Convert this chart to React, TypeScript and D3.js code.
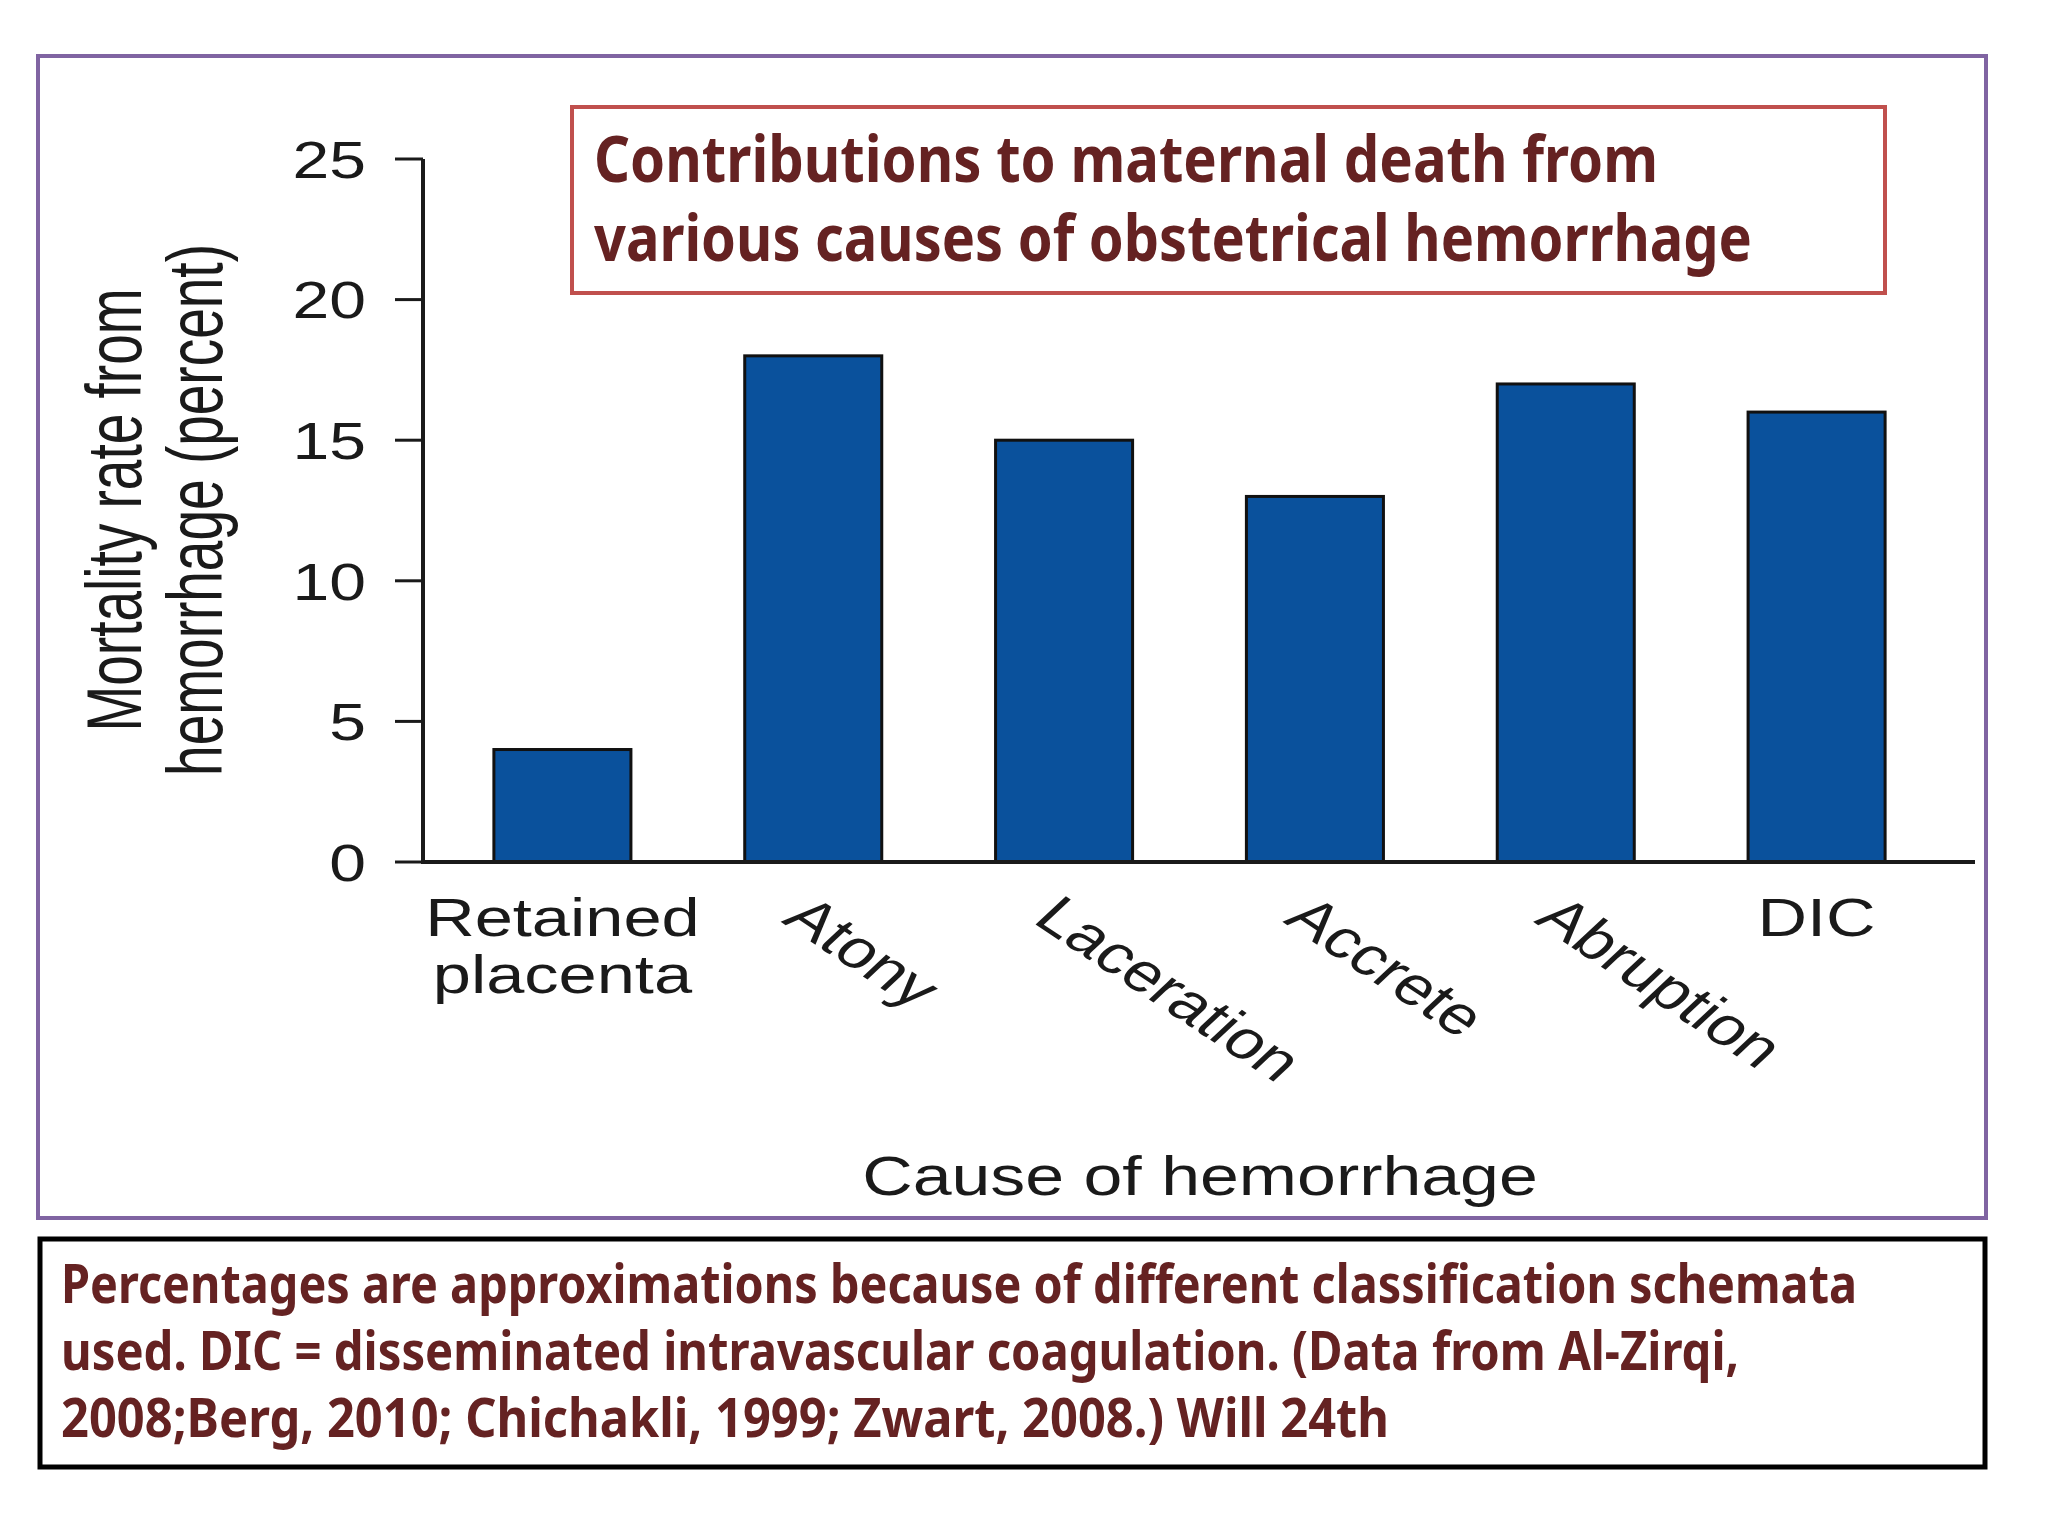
import React from "react";
import * as d3 from "d3";

const categories = ["Retained placenta", "Atony", "Laceration", "Accrete", "Abruption", "DIC"];
const values = [4, 18, 15, 13, 17, 16];
const rotatedLabel = [false, true, true, true, true, false];
const yTicks = [0, 5, 10, 15, 20, 25];
const titleLines = ["Contributions to maternal death from", "various causes of obstetrical hemorrhage"];
const yTitleLines = ["Mortality rate from", "hemorrhage (percent)"];
const xTitle = "Cause of hemorrhage";
const noteLines = [
  "Percentages are approximations because of different classification schemata",
  "used. DIC = disseminated intravascular coagulation. (Data from Al-Zirqi,",
  "2008;Berg, 2010; Chichakli, 1999; Zwart, 2008.) Will 24th",
];

const W = 2048;
const H = 1536;
const SX = 1.27; // horizontal stretch of the original chart artwork
const AXIS_X = 423;
const Y0 = 862;
const Y25 = 159;
const CHART_FONT = "'Liberation Sans', Arial, Helvetica, sans-serif";
const NOTE_FONT = "'Noto Sans', 'Open Sans', sans-serif";
const TEXT_RED = "#652222";

export default function App() {
  const y = d3.scaleLinear().domain([0, 25]).range([Y0, Y25]);
  const x = d3
    .scaleBand<string>()
    .domain(categories)
    .range([437, 1942])
    .paddingInner(0.4537)
    .paddingOuter(0.2268);
  const bw = x.bandwidth();

  const titleWidths = [1064, 1158];
  const noteWidths = [1796, 1678, 1328];

  return (
    <svg
      width={W}
      height={H}
      viewBox={`0 0 ${W} ${H}`}
      style={{ position: "absolute", left: 0, top: 0, background: "#fff" }}
    >
      <rect x={0} y={0} width={W} height={H} fill="#fff" />
      {/* purple frame */}
      <rect x={38} y={56} width={1948} height={1162} fill="none" stroke="#8064A2" strokeWidth={4} />

      {/* bars */}
      {categories.map((c, i) => (
        <rect
          key={c}
          x={x(c)}
          y={y(values[i])}
          width={bw}
          height={Y0 - y(values[i])}
          fill="#0A519C"
          stroke="#111"
          strokeWidth={3}
        />
      ))}

      {/* axes */}
      <line x1={AXIS_X} x2={AXIS_X} y1={Y25} y2={Y0 + 2} stroke="#1a1a1a" strokeWidth={4} />
      <line x1={AXIS_X - 2} x2={1975} y1={Y0} y2={Y0} stroke="#1a1a1a" strokeWidth={4} />
      {yTicks.map((t) => (
        <g key={t}>
          <line x1={AXIS_X - 28} x2={AXIS_X} y1={y(t)} y2={y(t)} stroke="#1a1a1a" strokeWidth={3} />
          <g transform={`translate(366,${y(t)}) scale(${SX},1)`}>
            <text
              textAnchor="end"
              dy="0.36em"
              fontFamily={CHART_FONT}
              fontSize={52}
              fill="#1a1a1a"
            >
              {t}
            </text>
          </g>
        </g>
      ))}

      {/* x labels */}
      {categories.map((c, i) => {
        const cx = (x(c) as number) + bw / 2;
        if (rotatedLabel[i]) {
          return (
            <g key={c} transform={`translate(${cx - 1},892) scale(${SX},1) rotate(40)`}>
              <text dy="0.72em" fontFamily={CHART_FONT} fontSize={54} fill="#1a1a1a">
                {c}
              </text>
            </g>
          );
        }
        const words = c === "Retained placenta" ? ["Retained", "placenta"] : [c];
        return (
          <g key={c} transform={`translate(${cx},936) scale(${SX},1)`}>
            {words.map((w, k) => (
              <text
                key={w}
                y={k * 57}
                textAnchor="middle"
                fontFamily={CHART_FONT}
                fontSize={54}
                fill="#1a1a1a"
              >
                {w}
              </text>
            ))}
          </g>
        );
      })}

      {/* y title */}
      {yTitleLines.map((l, k) => (
        <g key={l} transform={`translate(${141 + k * 81},510) scale(1.4,1) rotate(-90)`}>
          <text textAnchor="middle" fontFamily={CHART_FONT} fontSize={55} fill="#1a1a1a">
            {l}
          </text>
        </g>
      ))}

      {/* x title */}
      <g transform={`translate(1200,1195) scale(${SX},1)`}>
        <text textAnchor="middle" fontFamily={CHART_FONT} fontSize={55} fill="#1a1a1a">
          {xTitle}
        </text>
      </g>

      {/* title box */}
      <rect x={572} y={107} width={1313} height={186} fill="#fff" stroke="#C0504D" strokeWidth={4} />
      {titleLines.map((l, k) => (
        <text
          key={l}
          x={594}
          y={182 + k * 79}
          fontFamily={NOTE_FONT}
          fontWeight="bold"
          fontSize={64}
          fill={TEXT_RED}
          textLength={titleWidths[k]}
          lengthAdjust="spacingAndGlyphs"
        >
          {l}
        </text>
      ))}

      {/* note box */}
      <rect x={40} y={1239} width={1945} height={228} fill="#fff" stroke="#000" strokeWidth={5} />
      {noteLines.map((l, k) => (
        <text
          key={l}
          x={61}
          y={1303 + k * 67}
          fontFamily={NOTE_FONT}
          fontWeight="bold"
          fontSize={54}
          fill={TEXT_RED}
          textLength={noteWidths[k]}
          lengthAdjust="spacingAndGlyphs"
        >
          {l}
        </text>
      ))}
    </svg>
  );
}
